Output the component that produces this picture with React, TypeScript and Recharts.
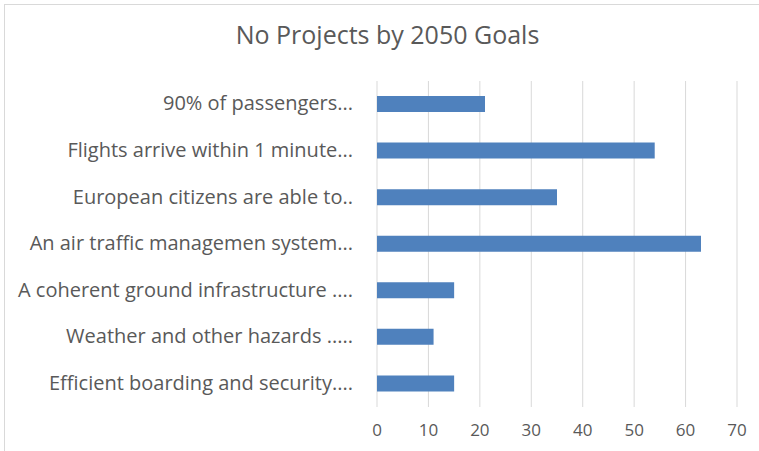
import { BarChart, Bar, XAxis, YAxis, CartesianGrid } from "recharts";

const goals: string[] = [
  "90% of passengers...",
  "Flights arrive within 1 minute...",
  "European citizens are able to..",
  "An air traffic managemen system...",
  "A coherent ground infrastructure ....",
  "Weather and other hazards .....",
  "Efficient boarding and security....",
];

const projects: number[] = [21, 54, 35, 63, 15, 11, 15];

const xTicks: number[] = [0, 10, 20, 30, 40, 50, 60, 70];

const data = goals.map((goal, i) => ({ goal, projects: projects[i] }));

const FONT = "'Open Sans', sans-serif";
const TEXT = "#595959";

function App() {
  return (
    <div
      style={{
        position: "absolute",
        left: 0,
        top: 0,
        width: 759,
        height: 451,
        background: "#fff",
        fontFamily: FONT,
      }}
    >
      <div
        style={{
          position: "absolute",
          left: 4,
          top: 4,
          width: 755,
          height: 447,
          borderTop: "1px solid #d9d9d9",
          borderLeft: "1px solid #d9d9d9",
        }}
      />
      <div
        style={{
          position: "absolute",
          left: 8,
          top: 17,
          width: 759,
          textAlign: "center",
          fontSize: 25,
          color: TEXT,
        }}
      >
        No Projects by 2050 Goals
      </div>
      <BarChart
        width={759}
        height={451}
        data={data}
        layout="vertical"
        margin={{ top: 81, right: 22, bottom: 14, left: 0 }}
        barCategoryGap={0}
      >
        <CartesianGrid horizontal={false} stroke="#d9d9d9" />
        <XAxis
          type="number"
          domain={[0, 70]}
          ticks={xTicks}
          axisLine={false}
          tickLine={false}
          height={30}
          tick={{ fill: TEXT, fontSize: 17, fontFamily: FONT, dy: 9 }}
        />
        <YAxis
          type="category"
          dataKey="goal"
          width={377}
          axisLine={false}
          tickLine={false}
          interval={0}
          tick={{ fill: TEXT, fontSize: 20, fontFamily: FONT, dx: -16, dy: -1 }}
        />
        <Bar dataKey="projects" fill="#4F81BD" barSize={16} isAnimationActive={false} />
      </BarChart>
    </div>
  );
}

export default App;
